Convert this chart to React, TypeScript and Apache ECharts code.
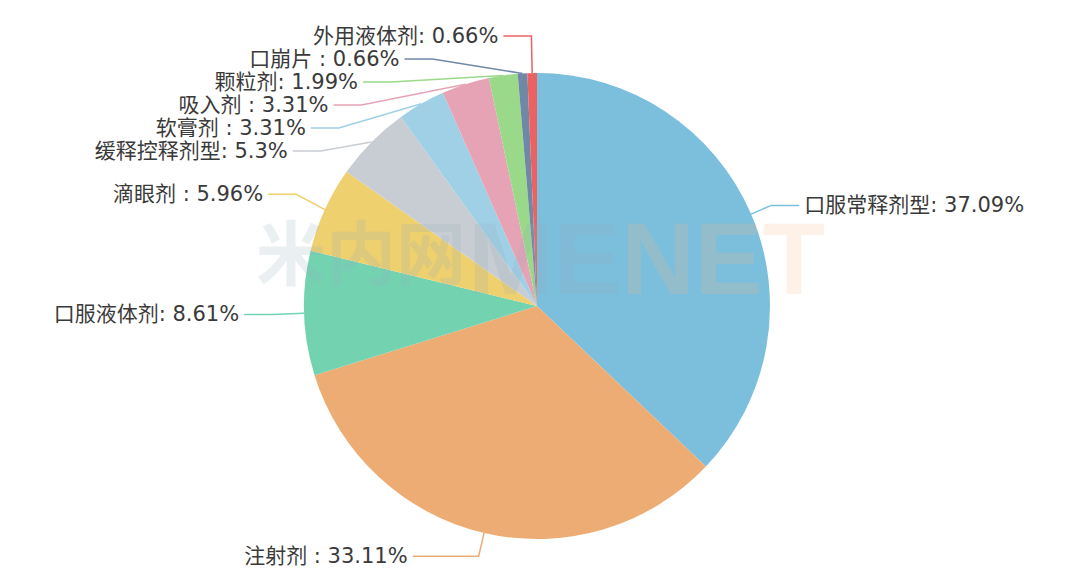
import React, { useEffect, useRef } from "react";
import * as echarts from "echarts";

const names = [
  "口服常释剂型",
  "注射剂 ",
  "口服液体剂",
  "滴眼剂 ",
  "缓释控释剂型",
  "软膏剂 ",
  "吸入剂 ",
  "颗粒剂",
  "口崩片 ",
  "外用液体剂",
];
const values = [37.09, 33.11, 8.61, 5.96, 5.3, 3.31, 3.31, 1.99, 0.66, 0.66];
const colors = [
  "#7bbfdc",
  "#edac74",
  "#73d3b1",
  "#efd06e",
  "#c8cdd3",
  "#9fd0e6",
  "#e6a3b5",
  "#9bd98a",
  "#6f88a6",
  "#ec6262",
];

export default function App() {
  const ref = useRef<HTMLDivElement>(null);
  useEffect(() => {
    document.body.style.margin = "0";
    const chart = echarts.init(ref.current!, null, { renderer: "svg" });
    chart.setOption({
      animation: false,
      backgroundColor: "#ffffff",
      color: colors,
      series: [
        {
          type: "pie",
          center: [537, 306],
          radius: 233,
          startAngle: 90,
          clockwise: true,
          data: names.map((n, i) => ({
            name: n,
            value: values[i],
            labelLine:
              i === 1
                ? { length: 24, length2: 66 }
                : { length: i >= 2 ? 37 : 22 },
          })),
          label: {
            formatter: "{b}: {c}%",
            fontSize: 21,
            color: "#3a3a3a",
            fontFamily: "'DejaVu Sans', 'Noto Sans CJK SC'",
          },
          labelLine: { length: 22, length2: 28, lineStyle: { width: 1.5 } },
        },
      ],
      graphic: [
        {
          type: "text",
          left: 256,
          top: 214,
          z: 100,
          silent: true,
          style: {
            text: "米内网",
            font: "bold 70px 'Noto Sans CJK SC'",
            fill: "rgba(150,175,190,0.2)",
          },
        },
        {
          type: "text",
          left: 468,
          top: 208,
          z: 100,
          silent: true,
          style: {
            text: "{b|ME}{c|NET}",
            rich: {
              b: {
                fontSize: 102,
                fontWeight: "bold",
                fontFamily: "'Liberation Sans'",
                fill: "rgba(150,170,185,0.2)",
              },
              c: {
                fontSize: 102,
                fontWeight: "bold",
                fontFamily: "'Liberation Sans'",
                fill: "rgba(250,185,135,0.2)",
              },
            },
          },
        },
      ],
    });
    return () => chart.dispose();
  }, []);
  return <div ref={ref} style={{ width: 1080, height: 577 }} />;
}
